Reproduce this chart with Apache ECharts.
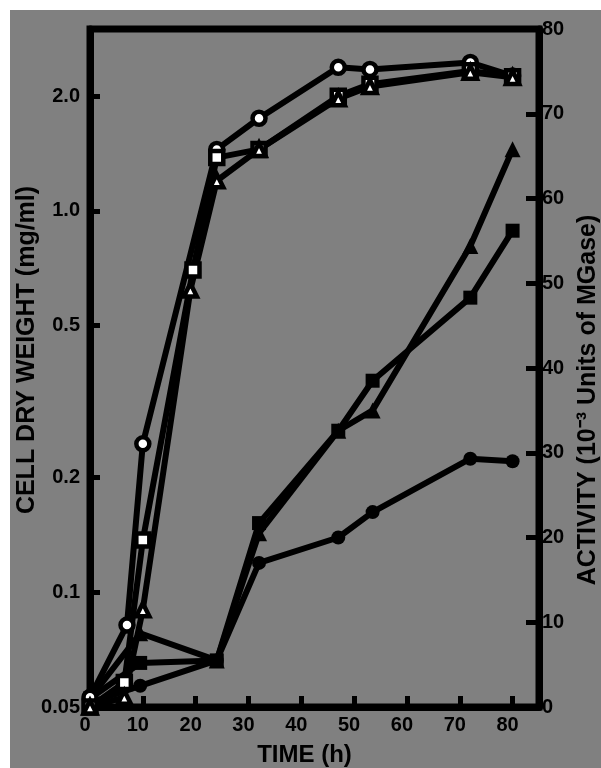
<!DOCTYPE html>
<html><head><meta charset="utf-8">
<script src="https://cdn.jsdelivr.net/npm/echarts@6/dist/echarts.min.js"></script>
<style>
html,body{margin:0;padding:0;background:#fff;}
#c{position:absolute;left:10px;top:10px;width:591px;height:758px;background:#808080;}
</style></head><body><div id="c"></div>
<script>
// Tick labels
const xTicks = [0, 10, 20, 30, 40, 50, 60, 70, 80];
const leftTicks = [0.05, 0.1, 0.2, 0.5, 1.0, 2.0];
const rightTicks = [0, 10, 20, 30, 40, 50, 60, 70, 80];

// Cell dry weight (mg/ml), left log axis
const dwCircleT = [0, 7, 10, 24, 32, 47, 53, 72, 80];
const dwCircle  = [0.053, 0.082, 0.245, 1.45, 1.75, 2.38, 2.35, 2.45, 2.26];
const dwSquareT = [0, 6.5, 10, 19.5, 24, 32, 47, 53, 72, 80];
const dwSquare  = [0.05, 0.058, 0.137, 0.70, 1.38, 1.45, 2.0, 2.15, 2.33, 2.25];
const dwTriT    = [0, 6.5, 10, 19, 24, 32, 47, 53, 72, 80];
const dwTri     = [0.05, 0.053, 0.090, 0.62, 1.2, 1.45, 1.97, 2.12, 2.31, 2.24];

// Activity, right axis
const actT        = [0, 9.5, 24, 32, 47, 53.5, 72, 80];
const actTriangle = [1, 8.7, 5.5, 20.5, 32.6, 35, 54.4, 65.8];
const actSquare   = [1, 5.2, 5.5, 21.7, 32.6, 38.5, 48.3, 56.2];
const actCircle   = [0.5, 2.5, 5.5, 17, 20, 23, 29.3, 29];

const FONT = '"Liberation Sans", Arial, sans-serif';
const chart = echarts.init(document.getElementById('c'), null, {renderer: 'canvas'});
const pair = (t, v) => t.map((x, i) => [x, v[i]]);
const mk = (name, t, v, yIdx, symbol, open) => ({
  name, type: 'line', yAxisIndex: yIdx, data: pair(t, v), symbol,
  symbolSize: open ? 13 : (symbol === 'triangle' ? 16 : 14),
  showAllSymbol: true,
  lineStyle: {color: '#000', width: 6},
  itemStyle: {color: open ? '#fff' : '#000', borderColor: '#000', borderWidth: open ? 4.5 : 0},
  emphasis: {disabled: true},
  z: open ? 4 : 3
});
const labelStyle = {fontFamily: FONT, fontWeight: 'bold', fontSize: 20, color: '#000'};
const nameStyle = {fontFamily: FONT, fontWeight: 'bold', fontSize: 25, color: '#000'};

const option = {
  animation: false,
  backgroundColor: 'transparent',
  grid: {left: 80, right: 62, top: 19, bottom: 61, show: true, borderColor: '#000', borderWidth: 7,
         backgroundColor: 'transparent', containLabel: false, outerBoundsMode: 'none'},
  xAxis: {
    type: 'value', min: 0, max: 85, interval: 10,
    name: 'TIME (h)', nameLocation: 'middle', nameGap: 36,
    nameTextStyle: Object.assign({padding: [0, 20, 0, 0]}, nameStyle, {fontSize: 24}),
    axisLine: {show: true, lineStyle: {color: '#000', width: 7}},
    axisTick: {show: true, inside: true, length: 11, lineStyle: {color: '#000', width: 5}, customValues: xTicks},
    axisLabel: Object.assign({customValues: xTicks, margin: 8, padding: [0, 10, 0, 0]}, labelStyle),
    splitLine: {show: false}
  },
  yAxis: [
    {
      type: 'log', logBase: 10, min: 0.05, max: 3.0, position: 'left',
      name: 'CELL DRY WEIGHT (mg/ml)', nameLocation: 'middle', nameGap: 50, nameRotate: 90,
      nameMoveOverlap: false,
      nameTextStyle: Object.assign({padding: [0, 0, 0, 36]}, nameStyle),
      axisLine: {show: true, lineStyle: {color: '#000', width: 7}},
      axisTick: {show: true, inside: true, length: 10, lineStyle: {color: '#000', width: 5}, customValues: leftTicks},
      axisLabel: Object.assign({customValues: leftTicks, margin: 10,
        formatter: v => (v < 0.09 ? v.toFixed(2) : v.toFixed(1))}, labelStyle),
      splitLine: {show: false}, minorTick: {show: false}
    },
    {
      type: 'value', min: 0, max: 80, interval: 10, position: 'right',
      name: 'ACTIVITY (10\u207B\u00B3 Units of MGase)', nameLocation: 'middle', nameGap: 30, nameRotate: 90,
      nameTextStyle: Object.assign({padding: [0, 64, 0, 0]}, nameStyle),
      axisLine: {show: true, lineStyle: {color: '#000', width: 7}},
      axisTick: {show: true, inside: true, length: 13, lineStyle: {color: '#000', width: 5}, customValues: rightTicks},
      axisLabel: Object.assign({customValues: rightTicks, margin: 3}, labelStyle),
      splitLine: {show: false}
    }
  ],
  series: [
    mk('Activity circle', actT, actCircle, 1, 'circle', false),
    mk('Activity square', actT, actSquare, 1, 'rect', false),
    mk('Activity triangle', actT, actTriangle, 1, 'triangle', false),
    mk('DW circle', dwCircleT, dwCircle, 0, 'circle', true),
    mk('DW square', dwSquareT, dwSquare, 0, 'rect', true),
    mk('DW triangle', dwTriT, dwTri, 0, 'triangle', true)
  ]
};
chart.setOption(option);
</script></body></html>
